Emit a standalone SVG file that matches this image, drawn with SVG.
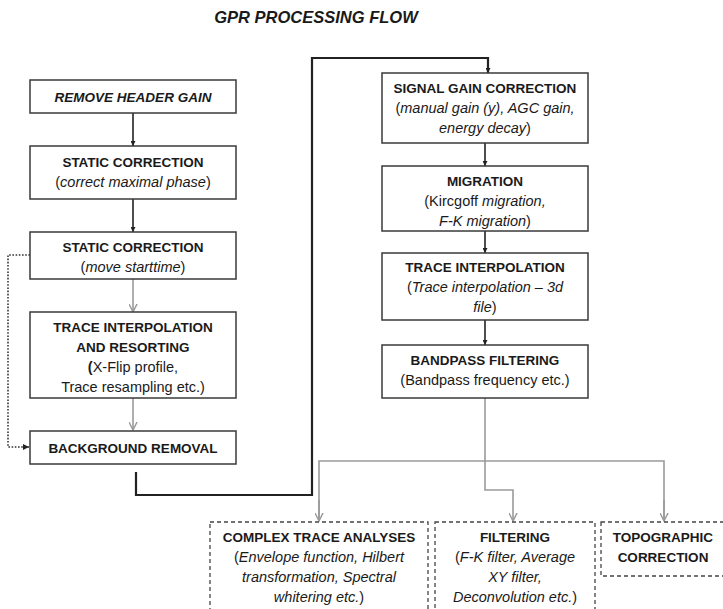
<svg xmlns="http://www.w3.org/2000/svg" width="723" height="609" viewBox="0 0 723 609">
<style>
  text { font-family: "Liberation Sans", Arial, sans-serif; font-size: 14.5px; fill: #1a1a1a; text-anchor: middle; }
  .b { font-weight: bold; font-size: 13.5px; }
  .i { font-style: italic; }
  .title { font-size: 16.5px; font-weight: bold; font-style: italic; }
  .box { fill: #fff; stroke: #3a3a3a; stroke-width: 1.5; }
  .dbox { fill: #fff; stroke: #444; stroke-width: 1.3; stroke-dasharray: 4 3; }
  .blk { fill: none; stroke: #222; stroke-width: 1.6; }
  .thick { fill: none; stroke: #222; stroke-width: 2.2; }
  .gry { fill: none; stroke: #9a9a9a; stroke-width: 1.6; }
  .dot { fill: none; stroke: #333; stroke-width: 1.6; stroke-dasharray: 1.6 1.6; }
</style>
<defs>
  <marker id="ab" viewBox="0 0 10 10" refX="10" refY="5" markerWidth="5" markerHeight="5" orient="auto" markerUnits="userSpaceOnUse">
    <path d="M0,0 L10,5 L0,10 z" fill="#222"/>
  </marker>
  <marker id="ag" viewBox="0 0 10 10" refX="9" refY="5" markerWidth="9" markerHeight="9" orient="auto" markerUnits="userSpaceOnUse">
    <path d="M0,0.5 L9,5 L0,9.5" fill="none" stroke="#9a9a9a" stroke-width="1.6"/>
  </marker>
  <marker id="ad" viewBox="0 0 10 10" refX="10" refY="5" markerWidth="6" markerHeight="6" orient="auto" markerUnits="userSpaceOnUse">
    <path d="M0,0 L10,5 L0,10 z" fill="#222"/>
  </marker>
</defs>

<text class="title" x="316" y="23">GPR PROCESSING FLOW</text>

<g id="connectors">
  <line class="blk" x1="133" y1="113" x2="133" y2="146" marker-end="url(#ab)"/>
  <line class="blk" x1="133" y1="199" x2="133" y2="232" marker-end="url(#ab)"/>
  <line class="gry" x1="133" y1="279" x2="133" y2="312" marker-end="url(#ag)"/>
  <line class="gry" x1="133" y1="398" x2="133" y2="430" marker-end="url(#ag)"/>
  <path class="dot" d="M30,255 H8 V447 H29" marker-end="url(#ad)"/>
  <path class="thick" d="M136,472 V495 H312 V58 H488 V73" marker-end="url(#ab)"/>
  <line class="blk" x1="485" y1="143" x2="485" y2="166" marker-end="url(#ab)"/>
  <line class="blk" x1="485" y1="231" x2="485" y2="253" marker-end="url(#ab)"/>
  <line class="blk" x1="485" y1="320" x2="485" y2="345" marker-end="url(#ab)"/>
  <path class="gry" d="M485,398 V490 H513 V521" marker-end="url(#ag)"/>
  <path class="gry" d="M319,521 V461 H664 V521" />
  <line class="gry" x1="319" y1="500" x2="319" y2="521" marker-end="url(#ag)"/>
  <line class="gry" x1="664" y1="500" x2="664" y2="521" marker-end="url(#ag)"/>
</g>

<g id="remove-header-gain">
  <rect class="box" x="30" y="80" width="206" height="33"/>
  <text class="b i" x="133" y="101.5">REMOVE HEADER GAIN</text>
</g>
<g id="static-correction-1">
  <rect class="box" x="30" y="146" width="206" height="53"/>
  <text class="b" x="133" y="167">STATIC CORRECTION</text>
  <text x="133" y="187">(<tspan class="i">correct maximal phase</tspan>)</text>
</g>
<g id="static-correction-2">
  <rect class="box" x="30" y="232" width="206" height="47"/>
  <text class="b" x="133" y="252">STATIC CORRECTION</text>
  <text x="133" y="272">(<tspan class="i">move starttime</tspan>)</text>
</g>
<g id="trace-interpolation-resorting">
  <rect class="box" x="30" y="312" width="206" height="86"/>
  <text class="b" x="133" y="332">TRACE INTERPOLATION</text>
  <text class="b" x="133" y="352">AND RESORTING</text>
  <text x="133" y="372"><tspan font-weight="bold">(</tspan>X-Flip profile,</text>
  <text x="133" y="392">Trace resampling etc.)</text>
</g>
<g id="background-removal">
  <rect class="box" x="30" y="431" width="206" height="33"/>
  <text class="b" x="133" y="452.5">BACKGROUND REMOVAL</text>
</g>

<g id="signal-gain-correction">
  <rect class="box" x="382" y="73" width="206" height="70"/>
  <text class="b" x="485" y="93">SIGNAL GAIN CORRECTION</text>
  <text x="485" y="113">(<tspan class="i">manual gain (y), AGC gain,</tspan></text>
  <text x="485" y="133"><tspan class="i">energy decay</tspan>)</text>
</g>
<g id="migration">
  <rect class="box" x="382" y="166" width="206" height="65"/>
  <text class="b" x="485" y="186">MIGRATION</text>
  <text x="485" y="206">(Kircgoff <tspan class="i">migration,</tspan></text>
  <text x="485" y="226"><tspan class="i">F-K migration</tspan>)</text>
</g>
<g id="trace-interpolation">
  <rect class="box" x="382" y="253" width="206" height="67"/>
  <text class="b" x="485" y="272">TRACE INTERPOLATION</text>
  <text x="485" y="292">(<tspan class="i">Trace interpolation – 3d</tspan></text>
  <text x="485" y="312"><tspan class="i">file</tspan>)</text>
</g>
<g id="bandpass-filtering">
  <rect class="box" x="382" y="345" width="206" height="53"/>
  <text class="b" x="485" y="365">BANDPASS FILTERING</text>
  <text x="485" y="385">(Bandpass frequency etc.)</text>
</g>

<g id="complex-trace-analyses">
  <rect class="dbox" x="210" y="522" width="218" height="100"/>
  <text class="b" x="319" y="542">COMPLEX TRACE ANALYSES</text>
  <text x="319" y="562">(<tspan class="i">Envelope function, Hilbert</tspan></text>
  <text class="i" x="319" y="582">transformation, Spectral</text>
  <text x="319" y="602"><tspan class="i">whitering etc.</tspan>)</text>
</g>
<g id="filtering">
  <rect class="dbox" x="435" y="522" width="160" height="100"/>
  <text class="b" x="515" y="542">FILTERING</text>
  <text x="515" y="562">(<tspan class="i">F-K filter, Average</tspan></text>
  <text class="i" x="515" y="582">XY filter,</text>
  <text x="515" y="602"><tspan class="i">Deconvolution etc.</tspan>)</text>
</g>
<g id="topographic-correction">
  <rect class="dbox" x="601" y="522" width="130" height="54"/>
  <text class="b" x="663" y="542">TOPOGRAPHIC</text>
  <text class="b" x="663" y="562">CORRECTION</text>
</g>
</svg>
